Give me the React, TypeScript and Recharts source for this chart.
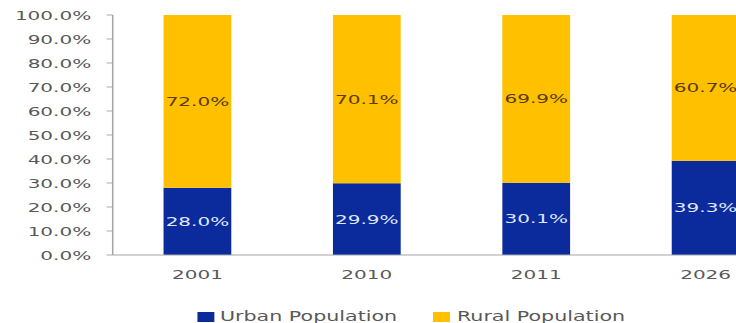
import React from 'react';
import { BarChart, Bar, XAxis, YAxis, LabelList, Legend } from 'recharts';

const years = ['2001', '2010', '2011', '2026'];
const urbanShare = [28.0, 29.9, 30.1, 39.3];
const ruralShare = [72.0, 70.1, 69.9, 60.7];
const yTicks = [0, 10, 20, 30, 40, 50, 60, 70, 80, 90, 100];
const boundaryTicks = [0, 1, 2, 3, 4];
const seriesNames = { urban: 'Urban Population', rural: 'Rural Population' };

const BLUE = '#0b2a9c';
const GOLD = '#ffc000';
const FONT = '"DejaVu Sans", Verdana, sans-serif';
const SX = 1.54;

const data = years.map((year, i) => ({ year, urban: urbanShare[i], rural: ruralShare[i] }));
const pct = (v: any) => Number(v).toFixed(1) + '%';

const LegendContent = () => (
  <div style={{ position: 'relative', height: 28, fontFamily: FONT, fontSize: 13.4, color: '#595959' }}>
    <span style={{ position: 'absolute', left: 123.4, top: 17, width: 11, height: 10, background: BLUE }} />
    <span style={{ position: 'absolute', left: 137.6, top: 15, lineHeight: '13px', whiteSpace: 'nowrap' }}>{seriesNames.urban}</span>
    <span style={{ position: 'absolute', left: 275.8, top: 17, width: 11, height: 10, background: GOLD }} />
    <span style={{ position: 'absolute', left: 291.5, top: 15, lineHeight: '13px', whiteSpace: 'nowrap' }}>{seriesNames.rural}</span>
  </div>
);

export default function App() {
  return (
    <div style={{ position: 'absolute', left: 8, top: 8, width: 728, height: 315, overflow: 'hidden', fontFamily: FONT }}>
      <div style={{ transform: `scaleX(${SX})`, transformOrigin: '0 0', width: 516 }}>
        <BarChart
          width={516}
          height={315}
          data={data}
          margin={{ top: 7, right: 8, left: 0, bottom: 0 }}
          barSize={44}
          style={{ fontFamily: FONT }}
        >
          <XAxis
            xAxisId="sep"
            type="number"
            domain={[0, 4]}
            ticks={boundaryTicks}
            height={0}
            axisLine={false}
            tickSize={5}
            tickLine={{ stroke: '#a6a6a6' }}
            tick={() => <g />}
            allowDataOverflow
          />
          <XAxis
            xAxisId="cat"
            dataKey="year"
            height={40}
            tickLine={false}
            tickSize={0}
            tickMargin={15}
            axisLine={{ stroke: '#a6a6a6' }}
            tick={{ fill: '#595959', fontSize: 13 }}
          />
          <YAxis
            width={68}
            domain={[0, 100]}
            ticks={yTicks}
            tickFormatter={pct}
            tickSize={4}
            tickMargin={10}
            axisLine={{ stroke: '#a6a6a6' }}
            tickLine={{ stroke: '#a6a6a6' }}
            tick={{ fill: '#595959', fontSize: 13 }}
            interval={0}
          />
          <Legend height={28} verticalAlign="bottom" content={() => <LegendContent />} />
          <Bar xAxisId="cat" dataKey="urban" stackId="a" fill={BLUE} isAnimationActive={false}>
            <LabelList dataKey="urban" position="center" formatter={pct} fill="#dfe6ff" fontSize={13} />
          </Bar>
          <Bar xAxisId="cat" dataKey="rural" stackId="a" fill={GOLD} isAnimationActive={false}>
            <LabelList dataKey="rural" position="center" formatter={pct} fill="#5c3b00" fontSize={13} />
          </Bar>
        </BarChart>
      </div>
    </div>
  );
}
